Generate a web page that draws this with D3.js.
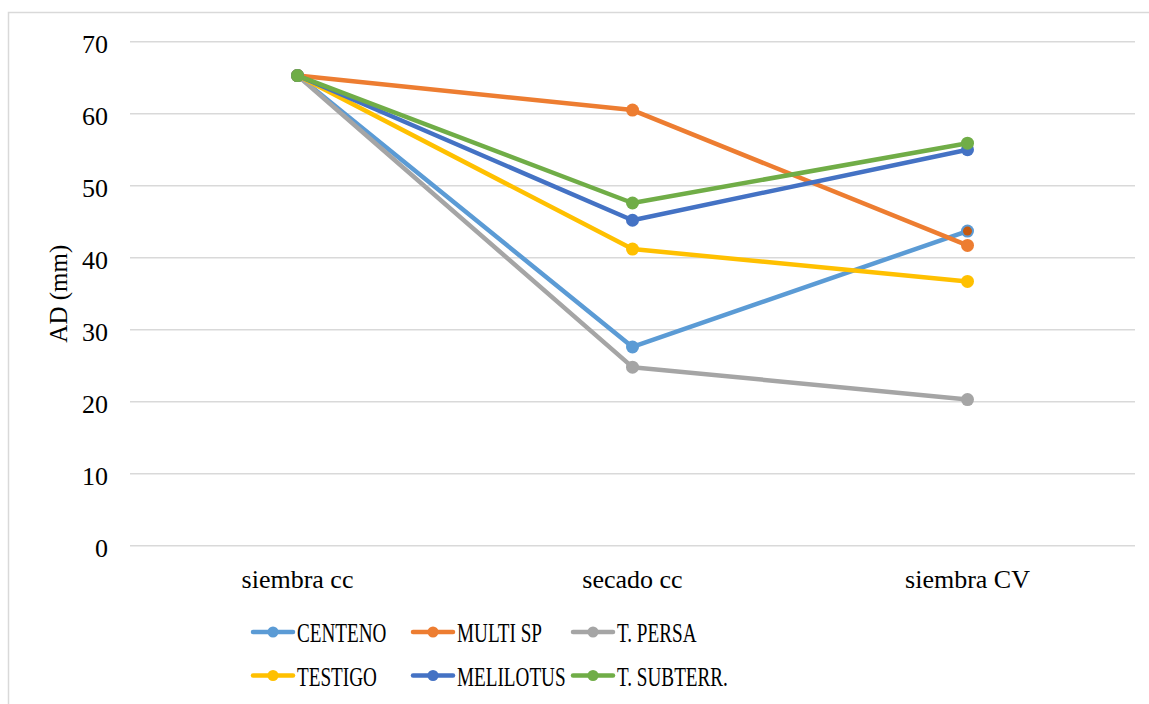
<!DOCTYPE html>
<html>
<head>
<meta charset="utf-8">
<script src="https://cdn.jsdelivr.net/npm/d3@7/dist/d3.min.js"></script>
<style>
  html, body { margin: 0; padding: 0; background: #fff; }
  svg { display: block; }
</style>
</head>
<body>
<svg id="chart" width="1149" height="704"></svg>
<script>
// Stages of the cover-crop cycle
const categories = ["siembra cc", "secado cc", "siembra CV"];

// Available water (mm) per treatment
const centeno    = [65.3, 27.6, 43.7];
const multiSp    = [65.3, 60.5, 41.7];
const tPersa     = [65.3, 24.8, 20.3];
const testigo    = [65.3, 41.2, 36.7];
const melilotus  = [65.3, 45.2, 55.0];
const tSubterr   = [65.3, 47.6, 55.9];

const seriesNames = ["CENTENO", "MULTI SP", "T. PERSA", "TESTIGO", "MELILOTUS", "T. SUBTERR."];
const seriesValues = [centeno, multiSp, tPersa, testigo, melilotus, tSubterr];
const seriesColors = ["#5B9BD5", "#ED7D31", "#A5A5A5", "#FFC000", "#4472C4", "#70AD47"];

const yTicks = [0, 10, 20, 30, 40, 50, 60, 70];
const yTitle = "AD (mm)";

const FONT = "Liberation Serif";
const svg = d3.select("#chart");

// Outer chart frame
svg.append("rect")
  .attr("x", 8.5).attr("y", 12.5)
  .attr("width", 1160).attr("height", 720)
  .attr("fill", "none").attr("stroke", "#d9d9d9").attr("stroke-width", 1.5);

const plot = { left: 130, right: 1135, top: 41.7, bottom: 545.7 };

const x = d3.scaleBand().domain(categories).range([plot.left, plot.right]);
const y = d3.scaleLinear().domain([0, 70]).range([plot.bottom, plot.top]);
const cx = c => x(c) + x.bandwidth() / 2;

// Horizontal gridlines
svg.append("g")
  .selectAll("line").data(yTicks).join("line")
  .attr("x1", plot.left).attr("x2", plot.right)
  .attr("y1", d => y(d)).attr("y2", d => y(d))
  .attr("stroke", "#d9d9d9").attr("stroke-width", 1.5);

// Y axis labels
const yAxis = svg.append("g")
  .attr("transform", `translate(${plot.left},0)`)
  .call(d3.axisLeft(y).tickValues(yTicks).tickSize(0).tickPadding(22));
yAxis.attr("font-family", FONT).attr("font-size", 26);
yAxis.select(".domain").remove();
yAxis.selectAll("text").attr("dy", "0.42em").attr("fill", "#000");

// X axis labels
const xAxis = svg.append("g")
  .attr("transform", `translate(0,${plot.bottom})`)
  .call(d3.axisBottom(x).tickSize(0).tickPadding(24));
xAxis.attr("font-family", FONT).attr("font-size", 26);
xAxis.select(".domain").remove();
xAxis.selectAll("text").attr("fill", "#000");

// Y axis title
svg.append("text")
  .attr("transform", `translate(67,${(plot.top + plot.bottom) / 2}) rotate(-90)`)
  .attr("text-anchor", "middle")
  .attr("font-family", FONT)
  .attr("font-size", 25)
  .text(yTitle);

// Series lines and markers
const line = d3.line().x((d, i) => cx(categories[i])).y(d => y(d));

seriesValues.forEach((vals, s) => {
  const g = svg.append("g");
  g.append("path")
    .datum(vals)
    .attr("d", line)
    .attr("fill", "none")
    .attr("stroke", seriesColors[s])
    .attr("stroke-width", 4.5)
    .attr("stroke-linejoin", "round")
    .attr("stroke-linecap", "round");
  g.selectAll("circle").data(vals).join("circle")
    .attr("cx", (d, i) => cx(categories[i]))
    .attr("cy", d => y(d))
    .attr("r", 6.5)
    .attr("fill", seriesColors[s]);
});

// Overlap tint where the CENTENO and MULTI SP markers meet at the last stage
svg.append("circle")
  .attr("cx", cx(categories[2]))
  .attr("cy", y(centeno[2]))
  .attr("r", 4.5)
  .attr("fill", "#C55A11");

// Legend (two rows of three)
const legend = svg.append("g");
seriesNames.forEach((name, i) => {
  const col = i % 3, row = Math.floor(i / 3);
  const lx = 253 + col * 160;
  const ly = 632 + row * 43.5;
  const item = legend.append("g").attr("transform", `translate(${lx},${ly})`);
  item.append("line")
    .attr("x1", 0).attr("x2", 40).attr("y1", 0).attr("y2", 0)
    .attr("stroke", seriesColors[i]).attr("stroke-width", 4.5)
    .attr("stroke-linecap", "round");
  item.append("circle")
    .attr("cx", 20).attr("cy", 0).attr("r", 5.5)
    .attr("fill", seriesColors[i]);
  item.append("text")
    .attr("transform", "translate(44,10) scale(0.71,1)")
    .attr("font-family", FONT)
    .attr("font-size", 27)
    .text(name);
});
</script>
</body>
</html>
